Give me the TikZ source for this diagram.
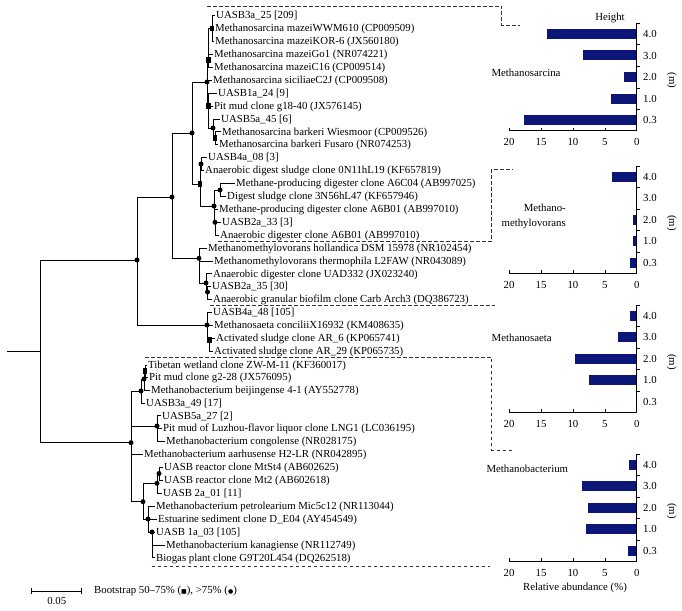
\documentclass[tikz,border=0pt]{standalone}
\usepackage{fontspec}
\setmainfont{Liberation Serif}
\newfontfamily\symfont{DejaVu Sans}
\definecolor{barblue}{RGB}{12,22,120}
\newcommand\bcirc[1]{\fill (#1) circle (2.5);}
\newcommand\bsq[1]{\fill ([shift={(-2.2,-2.8)}]#1) rectangle ++(4.4,5.6);}
\tikzset{
  lbl/.style={inner sep=0pt, font=\fontsize{10.8}{13}\selectfont},
  leaf/.style={lbl, anchor=west, inner sep=1pt, text height=8pt, text depth=1.7pt},
  branch/.style={line width=1pt},
  bracket/.style={dash pattern=on 3.5pt off 2.5pt, line width=0.6pt, black!80},
  axis/.style={line width=0.6pt}
}
\begin{document}
\begin{tikzpicture}[x=1pt, y=-1pt]
    \useasboundingbox (0,0) rectangle (682,610);
    % Leaves
    \node[leaf] (sar1) at (215,15.7) {UASB3a\_25 [209]};
    \node[leaf] (sar2) at (214,28.6) {Methanosarcina mazeiWWM610 (CP009509)};
    \node[leaf] (sar3) at (214,41.5) {Methanosarcina mazeiKOR-6 (JX560180)};
    \node[leaf] (sar4) at (213,54.4) {Methanosarcina mazeiGo1 (NR074221)};
    \node[leaf] (sar5) at (213,67.3) {Methanosarcina mazeiC16 (CP009514)};
    \node[leaf] (sar6) at (212,80.3) {Methanosarcina siciliaeC2J (CP009508)};
    \node[leaf] (sar7) at (217,93.2) {UASB1a\_24 [9]};
    \node[leaf] (sar8) at (213,106.1) {Pit mud clone g18-40 (JX576145)};
    \node[leaf] (sar9) at (220,119.0) {UASB5a\_45 [6]};
    \node[leaf] (sar10) at (221,131.9) {Methanosarcina barkeri Wiesmoor (CP009526)};
    \node[leaf] (sar11) at (218,144.8) {Methanosarcina barkeri Fusaro (NR074253)};
    \node[leaf] (dig1) at (207,157.7) {UASB4a\_08 [3]};
    \node[leaf] (dig2) at (204,170.6) {Anaerobic digest sludge clone 0N11hL19 (KF657819)};
    \node[leaf] (dig3) at (235,183.5) {Methane-producing digester clone A6C04 (AB997025)};
    \node[leaf] (dig4) at (226,196.4) {Digest sludge clone 3N56hL47 (KF657946)};
    \node[leaf] (dig5) at (218,209.4) {Methane-producing digester clone A6B01 (AB997010)};
    \node[leaf] (dig6) at (221,222.3) {UASB2a\_33 [3]};
    \node[leaf] (dig7) at (219,235.2) {Anaerobic digester clone A6B01 (AB997010)};
    \node[leaf] (mmv1) at (207,248.1) {Methanomethylovorans hollandica DSM 15978 (NR102454)};
    \node[leaf] (mmv2) at (213,261.0) {Methanomethylovorans thermophila L2FAW (NR043089)};
    \node[leaf] (mmv3) at (212,273.9) {Anaerobic digester clone UAD332 (JX023240)};
    \node[leaf] (mmv4) at (211,286.8) {UASB2a\_35 [30]};
    \node[leaf] (mmv5) at (212,299.7) {Anaerobic granular biofilm clone Carb Arch3 (DQ386723)};
    \node[leaf] (sae1) at (212,312.6) {UASB4a\_48 [105]};
    \node[leaf] (sae2) at (213,325.5) {Methanosaeta conciliiX16932 (KM408635)};
    \node[leaf] (sae3) at (215,338.4) {Activated sludge clone AR\_6 (KP065741)};
    \node[leaf] (sae4) at (213,351.4) {Activated sludge clone AR\_29 (KP065735)};
    \node[leaf] (bac1) at (147,365) {Tibetan wetland clone ZW-M-11 (KF360017)};
    \node[leaf] (bac2) at (148,377.6) {Pit mud clone g2-28 (JX576095)};
    \node[leaf] (bac3) at (150,390.3) {Methanobacterium beijingense 4-1 (AY552778)};
    \node[leaf] (bac4) at (145,403.0) {UASB3a\_49 [17]};
    \node[leaf] (bac5) at (161,415.9) {UASB5a\_27 [2]};
    \node[leaf] (bac6) at (162,428.8) {Pit mud of Luzhou-flavor liquor clone LNG1 (LC036195)};
    \node[leaf] (bac7) at (165,441.7) {Methanobacterium congolense (NR028175)};
    \node[leaf] (bac8) at (143,454.6) {Methanobacterium aarhusense H2-LR (NR042895)};
    \node[leaf] (bac9) at (163,467.5) {UASB reactor clone MtSt4 (AB602625)};
    \node[leaf] (bac10) at (163,480.4) {UASB reactor clone Mt2 (AB602618)};
    \node[leaf] (bac11) at (162,493.3) {UASB 2a\_01 [11]};
    \node[leaf] (bac12) at (155,506.3) {Methanobacterium petrolearium Mic5c12 (NR113044)};
    \node[leaf] (bac13) at (157,519.2) {Estuarine sediment clone D\_E04 (AY454549)};
    \node[leaf] (bac14) at (155,532.1) {UASB 1a\_03 [105]};
    \node[leaf] (bac15) at (165,545.0) {Methanobacterium kanagiense (NR112749)};
    \node[leaf] (bac16) at (155,557.9) {Biogas plant clone G9T20L454 (DQ262518)};
    % Coordinate
    \coordinate (root) at (7,351.7);
    \coordinate (nR) at (40,351.7);
    \coordinate (nUp) at (137,260);
    \coordinate (nMid) at (172,197);
    \coordinate (nA) at (192,133);
    \coordinate (nSar) at (207,82);
    \coordinate (nSarK) at (208.5,60);
    \coordinate (nSarK2) at (212,28.6);
    \coordinate (nSarL) at (208.5,106);
    \coordinate (nSarL2) at (213,128);
    \coordinate (nSarL3) at (215,138);
    \coordinate (nDig) at (200,184);
    \coordinate (nDigE) at (201,164);
    \coordinate (nDigF) at (214,206);
    \coordinate (nDigG) at (220,190);
    \coordinate (nDigH) at (215,222.3);
    \coordinate (nMmv) at (199,258.3);
    \coordinate (nMmvV) at (206,283);
    \coordinate (nMmvW) at (207.5,292);
    \coordinate (nSae) at (207,325);
    \coordinate (nSaeB) at (209.5,340);
    \coordinate (nBac) at (131,442.7);
    \coordinate (nBacT) at (141,391);
    \coordinate (nBacS) at (144,379);
    \coordinate (nBacS2) at (145,371);
    \coordinate (nBacU) at (157,426);
    \coordinate (nBacN) at (143,501.7);
    \coordinate (nBacN1) at (157,483.3);
    \coordinate (nBacN2) at (159,473.5);
    \coordinate (nBacP) at (148,519);
    \coordinate (nBacQ) at (152,532);
    % Branches
    \draw[branch] (root) -- (nR);
    \draw[branch] (nR) |- (nUp); \draw[branch] (nR) |- (nBac);
    \draw[branch] (nUp) |- (nMid); \draw[branch] (nUp) |- (nSae);
    \draw[branch] (nMid) |- (nA); \draw[branch] (nMid) |- (nMmv);
    \draw[branch] (nA) |- (nSar); \draw[branch] (nA) |- (nDig);
    \draw[branch] (nSar) |- (nSarK); \draw[branch] (nSar) |- (sar6); \draw[branch] (nSar) |- (nSarL);
    \draw[branch] (nSarK) |- (nSarK2); \draw[branch] (nSarK) |- (sar4); \draw[branch] (nSarK) |- (sar5);
    \draw[branch] (nSarK2) |- (sar1); \draw[branch] (nSarK2) |- (sar2); \draw[branch] (nSarK2) |- (sar3);
    \draw[branch] (nSarL) |- (sar7); \draw[branch] (nSarL) |- (sar8); \draw[branch] (nSarL) |- (nSarL2);
    \draw[branch] (nSarL2) |- (sar9); \draw[branch] (nSarL2) |- (nSarL3);
    \draw[branch] (nSarL3) |- (sar10); \draw[branch] (nSarL3) |- (sar11);
    \draw[branch] (nDig) |- (nDigE); \draw[branch] (nDig) |- (nDigF);
    \draw[branch] (nDigE) |- (dig1); \draw[branch] (nDigE) |- (dig2);
    \draw[branch] (nDigF) |- (nDigG); \draw[branch] (nDigF) |- (dig5); \draw[branch] (nDigF) |- (nDigH);
    \draw[branch] (nDigG) |- (dig3); \draw[branch] (nDigG) |- (dig4);
    \draw[branch] (nDigH) |- (dig6); \draw[branch] (nDigH) |- (dig7);
    \draw[branch] (nMmv) |- (mmv1); \draw[branch] (nMmv) |- (mmv2); \draw[branch] (nMmv) |- (nMmvV);
    \draw[branch] (nMmvV) |- (mmv3); \draw[branch] (nMmvV) |- (nMmvW);
    \draw[branch] (nMmvW) |- (mmv4); \draw[branch] (nMmvW) |- (mmv5);
    \draw[branch] (nSae) |- (sae1); \draw[branch] (nSae) |- (sae2); \draw[branch] (nSae) |- (nSaeB);
    \draw[branch] (nSaeB) |- (sae3); \draw[branch] (nSaeB) |- (sae4);
    \draw[branch] (nBac) |- (nBacT); \draw[branch] (nBac) |- (nBacU);
    \draw[branch] (nBac) |- (bac8); \draw[branch] (nBac) |- (nBacN);
    \draw[branch] (nBacT) |- (nBacS); \draw[branch] (nBacT) |- (bac4);
    \draw[branch] (nBacS) |- (nBacS2); \draw[branch] (nBacS) |- (bac3);
    \draw[branch] (nBacS2) |- (bac1); \draw[branch] (nBacS2) |- (bac2);
    \draw[branch] (nBacU) |- (bac5); \draw[branch] (nBacU) |- (bac6); \draw[branch] (nBacU) |- (bac7);
    \draw[branch] (nBacN) |- (nBacN1); \draw[branch] (nBacN) |- (nBacP);
    \draw[branch] (nBacN1) |- (nBacN2); \draw[branch] (nBacN1) |- (bac11);
    \draw[branch] (nBacN2) |- (bac9); \draw[branch] (nBacN2) |- (bac10);
    \draw[branch] (nBacP) |- (bac12); \draw[branch] (nBacP) |- (bac13); \draw[branch] (nBacP) |- (nBacQ);
    \draw[branch] (nBacQ) |- (bac14); \draw[branch] (nBacQ) |- (bac15); \draw[branch] (nBacQ) |- (bac16);
    % Bootstrap marks
    \bcirc{nUp} \bcirc{nMid} \bcirc{nA} \bcirc{nSar} \bcirc{nSarL2}
    \bsq{nSarK} \bsq{nSarK2} \bsq{nSarL} \bsq{nSarL3}
    \bsq{nDig} \bcirc{nDigE} \bcirc{nDigF} \bcirc{nDigG} \bcirc{nDigH}
    \bcirc{nMmv} \bcirc{nMmvV} \bcirc{nMmvW}
    \bcirc{nSae} \bsq{nSaeB}
    \bcirc{nBac} \bcirc{nBacT} \bcirc{nBacS} \bsq{nBacS2} \bcirc{nBacU}
    \bcirc{nBacN} \bcirc{nBacN1} \bcirc{nBacN2} \bcirc{nBacP} \bcirc{nBacQ}
    % Dashed brackets
    \draw[bracket] (207,6) -- (501.7,6) -- (501.7,25) -- (520,25);
    \draw[bracket] (218,241) -- (491.7,241) -- (491.7,169) -- (513,169);
    \draw[bracket] (210,305.5) -- (495,305.5);
    \draw[bracket] (145,357.6) -- (491.7,357.6) -- (491.7,450) -- (513,450);
    \draw[bracket] (151.7,566) -- (490,566);
    % Bar charts (top of axis / values for 4.0, 3.0, 2.0, 1.0, 0.3 m)
    \foreach \top/\a/\b/\c/\d/\e in {23.3/14.0/8.4/2.0/4.0/17.7, 166/3.8/0/0.6/0.6/1.0,
        305/1.0/3.0/9.7/7.5/0, 454/1.2/8.6/7.7/8.0/1.4}{
      \begin{scope}[shift={(0,\top)}]
        \foreach \v [count=\k from 0] in {\a,\b,\c,\d,\e}
          \fill[barblue] (636.7,5.7+21.5*\k) rectangle (636.7-6.38*\v,15.7+21.5*\k);
        \draw[axis] (636.7,0) -- (636.7,107.4) -- (509,107.4);
        \foreach \k in {0,...,4} \draw[axis] (636.7,21.5*\k) -- ++(3.5,0);
        \foreach \h [count=\k from 0] in {4.0,3.0,2.0,1.0,0.3}
          \node[lbl, anchor=west] (ht\k) at (643,10.7+21.5*\k) {\h};
        \foreach \p in {0,5,10,15,20}{
          \draw[axis] (636.7-6.38*\p,107.4) -- ++(0,-3);
          \node[lbl] (ab\p) at (636.7-6.38*\p,119) {\p};
        }
        \node[lbl, rotate=-90] (unit) at (671.7,57) {(m)};
      \end{scope}
    }
    % Chart titles
    \node[lbl] (height) at (610,18.3) {Height};
    \node[lbl] (tSar) at (526,73.3) {Methanosarcina};
    \node[lbl, align=right, anchor=east, font=\fontsize{10.8}{14.7}\selectfont] (tMmv) at (566,216.5) {Methano-\\methylovorans};
    \node[lbl] (tSae) at (521.7,338.3) {Methanosaeta};
    \node[lbl] (tBac) at (527.3,468.3) {Methanobacterium};
    \node[lbl] (xlab) at (575,588.3) {Relative abundance (\%)};
    % Scale bar and legend
    \coordinate (sbL) at (31.7,591);
    \coordinate (sbR) at (81.7,591);
    \draw[axis] (sbL) -- (sbR);
    \draw[axis] ([yshift=-3]sbL) -- ([yshift=3]sbL);
    \draw[axis] ([yshift=-3]sbR) -- ([yshift=3]sbR);
    \node[lbl] (sbval) at (56.7,600.5) {0.05};
    \node[lbl, anchor=west] (legend) at (94,591) {Bootstrap 50--75\% ({\symfont\fontsize{6}{6}\selectfont ■}), >75\% ({\symfont\fontsize{6}{6}\selectfont ●})};
\end{tikzpicture}
\end{document}
